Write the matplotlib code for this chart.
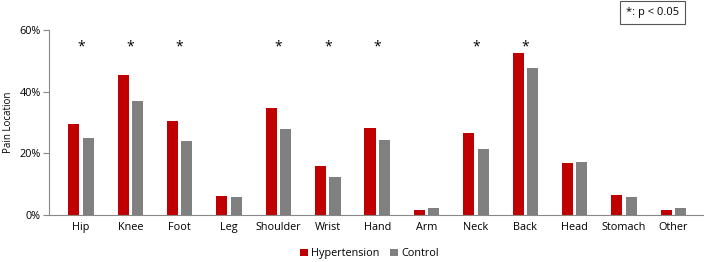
import matplotlib.pyplot as plt
import numpy as np

plt.rcParams['font.family'] = ['Open Sans', 'DejaVu Sans']

categories = ['Hip', 'Knee', 'Foot', 'Leg', 'Shoulder', 'Wrist', 'Hand',
              'Arm', 'Neck', 'Back', 'Head', 'Stomach', 'Other']
hypertension = [29.5, 45.6, 30.5, 6.3, 34.9, 15.9, 28.1, 1.8, 26.5, 52.6, 17.0, 6.4, 1.8]
control = [24.9, 37.0, 24.1, 5.9, 27.8, 12.5, 24.3, 2.4, 21.3, 47.6, 17.2, 6.0, 2.4]
significant = ['Hip', 'Knee', 'Foot', 'Shoulder', 'Wrist', 'Hand', 'Neck', 'Back']
star_level = 54.5

fig = plt.figure(figsize=(7.08, 2.62), dpi=100)
ax = fig.add_axes([0.069, 0.179, 0.924, 0.706])

x = np.arange(len(categories))
w = 0.225
ax.bar(x - 0.145, hypertension, w, color='#C00000', label='Hypertension')
ax.bar(x + 0.145, control, w, color='#808080', label='Control')

for i, c in enumerate(categories):
    if c in significant:
        ax.text(i, star_level, '*', ha='center', va='center', fontsize=10)

ax.set_xlim(-0.65, 12.6)
ax.set_ylim(0, 60)
ax.set_yticks([0, 20, 40, 60])
ax.set_yticklabels(['0%', '20%', '40%', '60%'])
ax.set_xticks(x)
ax.set_xticklabels(categories)
ax.tick_params(axis='x', length=0, pad=5, labelsize=7.8)
ax.tick_params(axis='y', length=4, color='#888888', labelsize=7.8, pad=2)
for s in ['top', 'right']:
    ax.spines[s].set_visible(False)
ax.spines['left'].set_color('#888888')
ax.spines['bottom'].set_color('#888888')
ax.set_ylabel('Pain Location', fontsize=7, labelpad=4)

ax.legend(loc='center', bbox_to_anchor=(0.49, -0.21), ncol=2, frameon=False,
          fontsize=7.8, handlelength=0.7, handleheight=0.7, handletextpad=0.3,
          columnspacing=1.0)

fig.text(0.922, 0.952, '*: p < 0.05', ha='center', va='center', fontsize=8,
         bbox=dict(boxstyle='square,pad=0.55', fc='white', ec='#555555', lw=0.8))

fig.savefig('out.png', dpi=100)
